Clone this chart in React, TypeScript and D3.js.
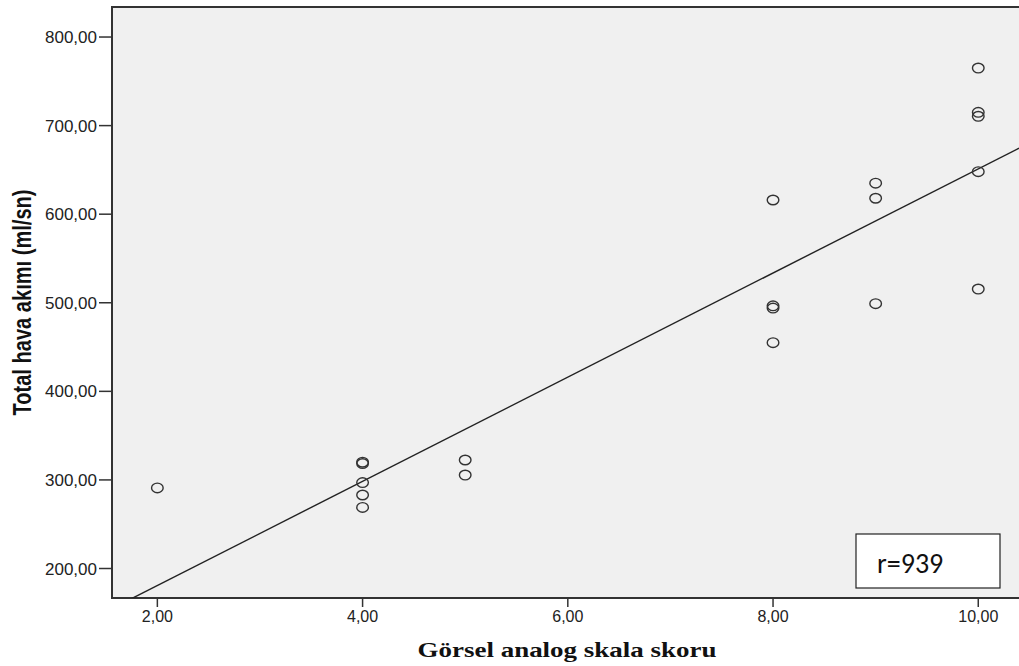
import React from "react";
import * as d3 from "d3";

// scores (x) and total airflow (y)
const scores = [2, 4, 4, 4, 4, 4, 5, 5, 8, 8, 8, 8, 9, 9, 9, 10, 10, 10, 10, 10];
const airflow = [291, 320, 318.5, 297, 283, 269, 322.5, 305.5, 616, 496.5, 494, 455, 635, 618, 499, 765, 715, 710.5, 648, 515.5];

const xTicks = [2, 4, 6, 8, 10];
const yTicks = [200, 300, 400, 500, 600, 700, 800];

// fit line as drawn in the chart
const fitIntercept = 63.2;
const fitSlope = 58.8;
const rLabel = "r=939";

const xTitle = "Görsel analog skala skoru";
const yTitle = "Total hava akımı (ml/sn)";

const fmt = (v: number) => v.toFixed(2).replace(".", ",");

function App() {
  const width = 1019;
  const height = 666;
  const plot = { left: 112, top: 7, right: 1019, bottom: 598 };

  const x = d3.scaleLinear().domain([1.558, 10.397]).range([plot.left, plot.right]);
  const y = d3.scaleLinear().domain([166.7, 833.9]).range([plot.bottom, plot.top]);

  const points = scores.map((s, i) => ({ s, v: airflow[i] }));

  const lineX = x.domain();
  const fit = d3.line<number>()
    .x((d) => x(d))
    .y((d) => y(fitIntercept + fitSlope * d));

  return (
    <svg
      width={width}
      height={height}
      style={{ position: "absolute", left: 0, top: 0, background: "#fff" }}
    >
      <defs>
        <clipPath id="plotclip">
          <rect x={plot.left} y={plot.top} width={plot.right - plot.left + 5} height={plot.bottom - plot.top} />
        </clipPath>
      </defs>
      <rect
        x={plot.left}
        y={plot.top}
        width={plot.right - plot.left + 10}
        height={plot.bottom - plot.top}
        fill="#f0f0f0"
        stroke="#333"
        strokeWidth={2}
      />

      {/* y axis ticks */}
      {yTicks.map((t) => (
        <g key={"y" + t}>
          <line x1={plot.left - 13} x2={plot.left} y1={y(t)} y2={y(t)} stroke="#333" strokeWidth={1.5} />
          <text
            x={plot.left - 15}
            y={y(t)}
            dy="0.36em"
            textAnchor="end"
            fontFamily="Arial, 'Liberation Sans', sans-serif"
            fontSize={17}
            fill="#222"
          >
            {fmt(t)}
          </text>
        </g>
      ))}

      {/* x axis ticks */}
      {xTicks.map((t) => (
        <g key={"x" + t}>
          <line x1={x(t)} x2={x(t)} y1={plot.bottom} y2={plot.bottom + 9} stroke="#333" strokeWidth={1.5} />
          <text
            x={x(t)}
            y={plot.bottom + 24}
            textAnchor="middle"
            fontFamily="Arial, 'Liberation Sans', sans-serif"
            fontSize={16}
            fill="#222"
          >
            {fmt(t)}
          </text>
        </g>
      ))}

      <g clipPath="url(#plotclip)">
        <path d={fit(lineX) || ""} fill="none" stroke="#222" strokeWidth={1.4} />
        {points.map((p, i) => (
          <ellipse
            key={i}
            cx={x(p.s)}
            cy={y(p.v)}
            rx={5.8}
            ry={4.8}
            fill="none"
            stroke="#333"
            strokeWidth={1.4}
          />
        ))}
      </g>

      {/* r box */}
      <rect x={856} y={534} width={144} height={54} fill="#fff" stroke="#222" strokeWidth={1.2} />
      <text x={877} y={573} fontFamily="Carlito, Calibri, 'Open Sans', sans-serif" fontSize={28} fill="#111">
        {rLabel}
      </text>

      {/* axis titles */}
      <text
        x={567}
        y={657}
        textAnchor="middle"
        fontFamily="'Liberation Serif', 'Times New Roman', serif"
        fontWeight="bold"
        fontSize={21}
        textLength={299}
        lengthAdjust="spacingAndGlyphs"
        fill="#111"
      >
        {xTitle}
      </text>
      <text
        transform={`translate(31,${(plot.top + plot.bottom) / 2}) rotate(-90)`}
        textAnchor="middle"
        fontFamily="'Liberation Sans Narrow', 'Liberation Sans', Arial, sans-serif"
        fontWeight="bold"
        fontSize={25}
        textLength={226}
        lengthAdjust="spacingAndGlyphs"
        fill="#111"
      >
        {yTitle}
      </text>
    </svg>
  );
}

export default App;
